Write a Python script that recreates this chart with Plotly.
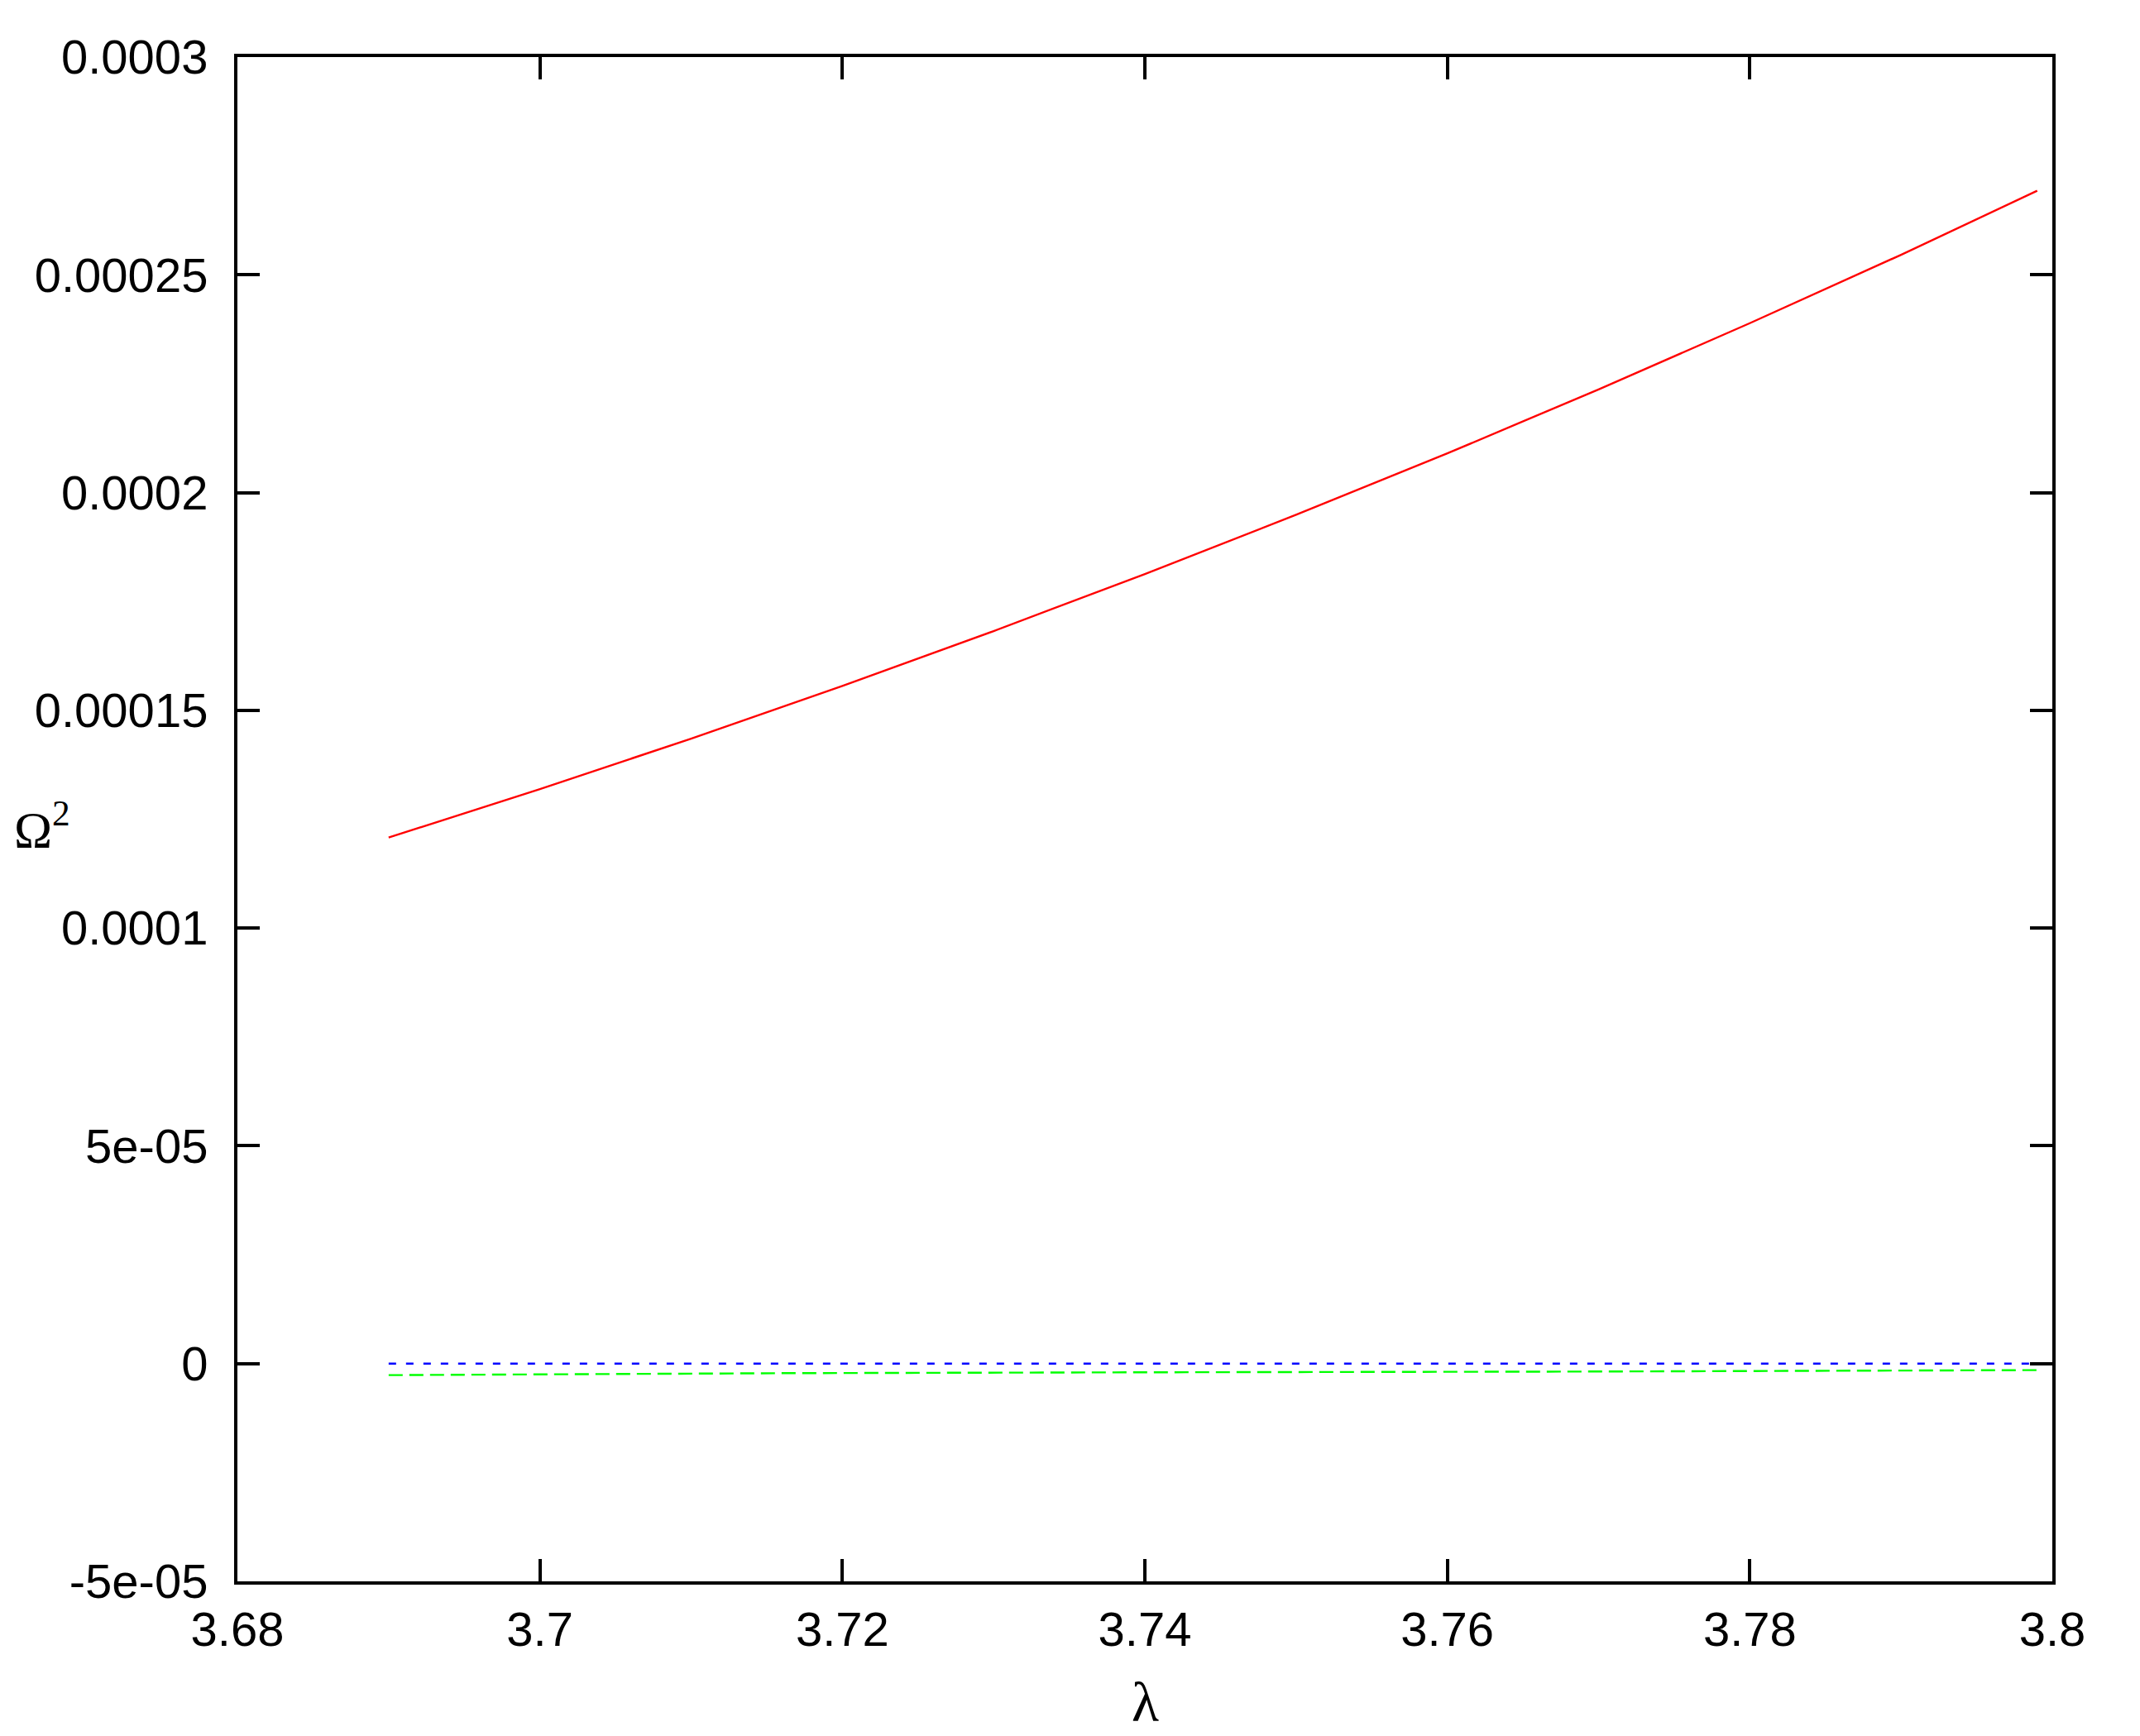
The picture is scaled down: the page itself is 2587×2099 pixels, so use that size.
import plotly.graph_objects as go

# Data
red_x = [3.69, 3.70, 3.71, 3.72, 3.73, 3.74, 3.75, 3.76, 3.77, 3.78, 3.79, 3.799]
red_y = [1.208e-4, 1.319e-4, 1.435e-4, 1.556e-4, 1.682e-4, 1.813e-4, 1.949e-4,
         2.090e-4, 2.237e-4, 2.389e-4, 2.546e-4, 2.693e-4]

green_x = [3.69, 3.716, 3.74, 3.768, 3.799]
green_y = [-2.65e-6, -2.2e-6, -2.0e-6, -1.84e-6, -1.5e-6]

blue_x = [3.69, 3.799]
blue_y = [0.0, 0.0]

x_ticks = [3.68, 3.70, 3.72, 3.74, 3.76, 3.78, 3.80]
x_ticktext = ["3.68", "3.7", "3.72", "3.74", "3.76", "3.78", "3.8"]
y_ticks = [-5e-5, 0, 5e-5, 1e-4, 1.5e-4, 2e-4, 2.5e-4, 3e-4]
y_ticktext = ["-5e-05", "0", "5e-05", "0.0001", "0.00015", "0.0002", "0.00025", "0.0003"]

fig = go.Figure()
fig.add_trace(go.Scatter(x=red_x, y=red_y, mode="lines",
                         line=dict(color="#ff0000", width=2.4), showlegend=False))
fig.add_trace(go.Scatter(x=green_x, y=green_y, mode="lines",
                         line=dict(color="#00ff00", width=2.4, dash="17px,8px"), showlegend=False))
fig.add_trace(go.Scatter(x=blue_x, y=blue_y, mode="lines",
                         line=dict(color="#0000ff", width=2.4, dash="9px,12px"), showlegend=False))

tickfont = dict(family="Liberation Sans, Arial, sans-serif", size=58, color="black")

fig.update_layout(
    width=2579, height=2091,
    margin=dict(l=279, r=106, t=61, b=187),
    paper_bgcolor="white", plot_bgcolor="white",
    xaxis=dict(range=[3.68, 3.80], tickvals=x_ticks, ticktext=x_ticktext,
               ticks="inside", ticklen=27, tickwidth=4, tickcolor="black",
               showline=True, linewidth=4, linecolor="black", mirror="ticks",
               showgrid=False, zeroline=False, tickfont=tickfont,
               ticklabelstandoff=4),
    yaxis=dict(range=[-5e-5, 3e-4], tickvals=y_ticks, ticktext=y_ticktext,
               ticks="inside", ticklen=27, tickwidth=4, tickcolor="black",
               showline=True, linewidth=4, linecolor="black", mirror="ticks",
               showgrid=False, zeroline=False, tickfont=tickfont,
               ticklabelstandoff=20),
    annotations=[
        dict(text="Ω<sup>2</sup>", xref="paper", yref="paper",
             x=(15 - 287) / 2194, y=0.496, xanchor="left", yanchor="middle",
             showarrow=False,
             font=dict(family="Liberation Serif, Times New Roman, serif", size=62, color="black")),
        dict(text="λ", xref="paper", yref="paper",
             x=0.5004, y=-0.079, xanchor="center", yanchor="middle",
             showarrow=False,
             font=dict(family="Liberation Serif, Times New Roman, serif", size=68, color="black")),
    ],
)

fig.write_html("out.html")
